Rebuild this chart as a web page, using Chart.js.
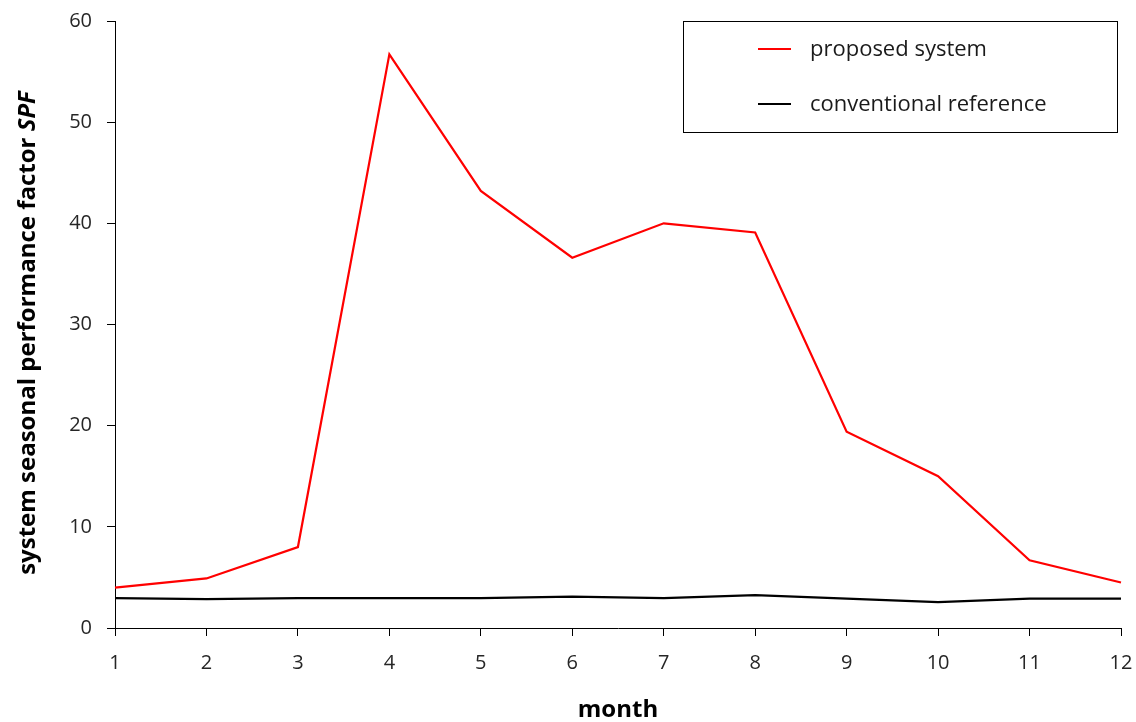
<!DOCTYPE html>
<html><head><meta charset="utf-8">
<script src="https://cdn.jsdelivr.net/npm/chart.js@4/dist/chart.umd.min.js"></script>
<style>html,body{margin:0;padding:0;background:#fff;}#wrap{width:1136px;height:722px;}</style>
</head><body><div id="wrap"><canvas id="c" width="1136" height="722"></canvas></div>
<script>
const months = ['1','2','3','4','5','6','7','8','9','10','11','12'];
const proposedSystem = [4.0, 4.9, 8.0, 56.7, 43.2, 36.6, 40.0, 39.1, 19.4, 15.0, 6.7, 4.5];
const conventionalReference = [2.95, 2.85, 2.95, 2.95, 2.95, 3.1, 2.95, 3.25, 2.9, 2.55, 2.9, 2.9];
const yTicks = [0, 10, 20, 30, 40, 50, 60];
const FONT = '"Open Sans", sans-serif';

const yTitlePlugin = {
  id: 'yTitle',
  afterDraw(chart) {
    const ctx = chart.ctx;
    ctx.save();
    ctx.translate(35, 333);
    ctx.rotate(-Math.PI / 2);
    ctx.fillStyle = '#000';
    ctx.textBaseline = 'alphabetic';
    const a = 'system seasonal performance factor ';
    const b = 'SPF';
    const size = 24;
    ctx.font = 'bold ' + size + 'px ' + FONT;
    const wa = ctx.measureText(a).width;
    ctx.font = 'italic bold ' + size + 'px ' + FONT;
    const wb = ctx.measureText(b).width;
    const start = -(wa + wb) / 2;
    ctx.font = 'bold ' + size + 'px ' + FONT;
    ctx.textAlign = 'left';
    ctx.fillText(a, start, 0);
    ctx.font = 'italic bold ' + size + 'px ' + FONT;
    ctx.fillText(b, start + wa, 0);
    ctx.restore();
  }
};

const legendPlugin = {
  id: 'boxLegend',
  afterDraw(chart) {
    const ctx = chart.ctx;
    ctx.save();
    ctx.strokeStyle = '#000';
    ctx.lineWidth = 1;
    ctx.strokeRect(683.5, 21.5, 434, 111);
    ctx.font = '22px ' + FONT;
    ctx.textBaseline = 'middle';
    ctx.textAlign = 'left';
    const ys = [49, 104];
    chart.data.datasets.forEach((ds, i) => {
      ctx.strokeStyle = ds.borderColor;
      ctx.lineWidth = 2;
      ctx.beginPath();
      ctx.moveTo(758, ys[i]); ctx.lineTo(791, ys[i]);
      ctx.stroke();
      ctx.fillStyle = '#1a1a1a';
      ctx.fillText(ds.label, 810, ys[i] + 1);
    });
    ctx.restore();
  }
};

new Chart(document.getElementById('c'), {
  type: 'line',
  data: {
    labels: months,
    datasets: [
      { label: 'proposed system', data: proposedSystem, borderColor: '#ff0000', borderWidth: 2.2, pointRadius: 0, tension: 0, fill: false },
      { label: 'conventional reference', data: conventionalReference, borderColor: '#000000', borderWidth: 2.2, pointRadius: 0, tension: 0, fill: false }
    ]
  },
  options: {
    responsive: false,
    animation: false,
    devicePixelRatio: 1,
    layout: { padding: { top: 21, right: 15, left: 0, bottom: 0 } },
    plugins: { legend: { display: false }, tooltip: { enabled: false } },
    scales: {
      x: {
        offset: false,
        grid: { display: true, drawOnChartArea: false, drawTicks: true, tickLength: 8, color: '#000', tickColor: '#000' },
        border: { display: true, color: '#000', width: 1 },
        ticks: { color: '#262626', font: { family: FONT, size: 20 }, padding: 15, maxRotation: 0, autoSkip: false },
        title: { display: true, text: 'month', color: '#000', font: { family: FONT, size: 24, weight: 'bold', lineHeight: 1.0 }, padding: { top: 6, bottom: 0 } },
        afterFit(s) { s.height = 94; s.paddingLeft = 0; s.paddingRight = 0; }
      },
      y: {
        min: 0, max: 60,
        afterBuildTicks(s) { s.ticks = yTicks.map(v => ({ value: v })); },
        grid: { display: true, drawOnChartArea: false, drawTicks: true, tickLength: 8, color: '#000', tickColor: '#000' },
        border: { display: true, color: '#000', width: 1 },
        ticks: { color: '#262626', font: { family: FONT, size: 20 }, padding: 15 },
        afterFit(s) { s.width = 115; s.paddingTop = 0; s.paddingBottom = 0; }
      }
    }
  },
  plugins: [yTitlePlugin, legendPlugin]
});
</script></body></html>
